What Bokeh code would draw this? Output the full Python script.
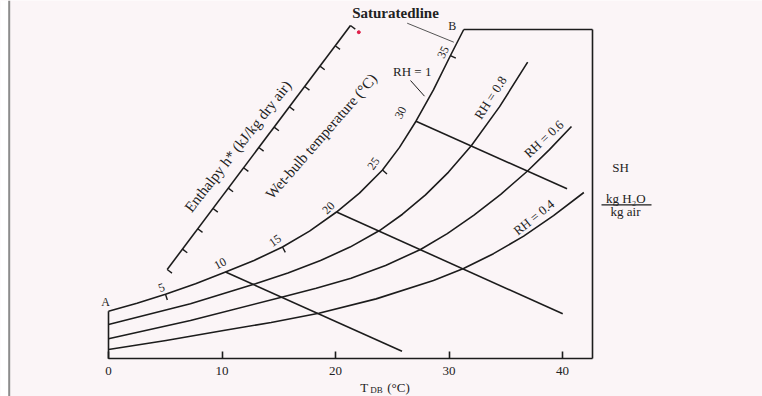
import numpy as np
from bokeh.plotting import figure
from bokeh.models import Range1d, LinearAxis, FixedTicker, Span, BoxAnnotation
from bokeh.core.properties import value
from bokeh.embed import file_html
from bokeh.resources import INLINE

# ---------------- data ----------------
# dry-bulb temperature axis (deg C) and specific-humidity extent (chart units)
tdb_ticks = [0, 10, 20, 30, 40]
tdb_max = 42.64
sh_max = 40.0

# relative-humidity curves: T_DB (deg C) vs SH (chart units)
rh1_t = [0.0, 2.51, 5.02, 7.67, 10.31, 12.82, 15.33, 17.71, 20.09, 22.11, 24.14,
         25.64, 27.09, 28.63, 30.13, 31.30]
rh1_sh = [5.78, 6.75, 7.83, 9.11, 10.54, 11.94, 13.58, 15.51, 17.83, 20.12, 22.93,
          25.68, 28.86, 32.66, 36.84, 40.0]
rh08_t = [0.0, 7.22, 12.95, 15.81, 18.68, 21.28, 23.88, 25.90, 27.93, 29.96, 31.98,
          34.46, 36.93]
rh08_sh = [4.17, 6.68, 9.11, 10.42, 11.94, 13.57, 15.58, 17.56, 19.91, 22.68, 25.91,
           30.63, 36.03]
rh06_t = [0.0, 7.22, 15.24, 18.30, 21.37, 24.41, 27.49, 29.85, 32.20, 34.56, 36.92,
          38.85, 40.79]
rh06_sh = [2.43, 4.65, 7.48, 8.56, 9.79, 11.33, 13.28, 15.21, 17.46, 19.98, 22.81,
           25.41, 28.22]
rh04_t = [0.0, 5.07, 10.13, 14.33, 18.53, 23.58, 28.63, 31.28, 33.92, 36.58, 39.21, 41.88]
rh04_sh = [1.13, 2.22, 3.44, 4.41, 5.54, 7.28, 9.51, 10.97, 12.77, 14.90, 17.39, 20.20]
rh_names = ["RH = 1", "RH = 0.8", "RH = 0.6", "RH = 0.4"]

# wet-bulb temperature marks on the saturated line
wb_labels = ["5", "10", "15", "20", "25", "30", "35"]
wb_t = [5.02, 10.31, 15.33, 20.09, 24.14, 27.09, 30.13]
wb_sh = [7.83, 10.54, 13.58, 17.83, 22.93, 28.86, 36.84]

# constant wet-bulb lines (10, 20, 30 deg C): start on saturation, end point
wbl_t0 = [10.31, 20.09, 27.09]
wbl_sh0 = [10.54, 17.83, 28.86]
wbl_t1 = [25.86, 40.02, 40.40]
wbl_sh1 = [0.92, 5.47, 20.65]

# enthalpy scale (oblique), ends and number of divisions
enth_t = [5.17, 21.32]
enth_sh = [10.85, 40.49]
enth_divisions = 12

# ---------------- layout helpers ----------------
SX, SY = 11.35, 8.2325          # px per unit
X0, Y0 = 108.0, 358.3           # page px of the origin
W, H = 762, 396
def px(x):
    return (x - X0) / SX
def py(y):
    return (Y0 - y) / SY

BG = "#fbf5f7"
INK = "#1c1c1c"
SERIF = "Liberation Serif"

p = figure(width=W, height=H, output_backend="svg", toolbar_location=None,
           x_axis_type=None, y_axis_type=None,
           x_range=Range1d(px(0), px(W)), y_range=Range1d(py(H), py(0)),
           min_border=0, min_border_left=0, min_border_right=0,
           min_border_top=0, min_border_bottom=0)
p.background_fill_color = BG
p.border_fill_color = BG
p.outline_line_color = None

# white page strip and slide border on the left
p.add_layout(BoxAnnotation(right=px(8), fill_color="white", fill_alpha=1.0, line_color=None))
p.add_layout(Span(location=px(8.7), dimension="height", line_color="#8c8c8c", line_width=2))

# dry-bulb axis (pinned at SH = 0)
xaxis = LinearAxis(fixed_location=0, bounds=(0, tdb_max), ticker=FixedTicker(ticks=tdb_ticks))
xaxis.major_tick_in = 7
xaxis.major_tick_out = 0
xaxis.minor_tick_line_color = None
xaxis.axis_line_color = INK
xaxis.axis_line_width = 1.6
xaxis.major_tick_line_color = INK
xaxis.major_tick_line_width = 1.6
xaxis.major_label_text_font = SERIF
xaxis.major_label_text_font_size = "13px"
xaxis.major_label_text_color = "#222222"
xaxis.major_label_standoff = 8
p.add_layout(xaxis, "below")

# specific-humidity axis line (right side of the box)
yaxis = LinearAxis(fixed_location=tdb_max, bounds=(0, sh_max), ticker=FixedTicker(ticks=[]))
yaxis.major_tick_line_color = None
yaxis.minor_tick_line_color = None
yaxis.major_label_text_font_size = "0px"
yaxis.axis_line_color = INK
yaxis.axis_line_width = 1.6
p.add_layout(yaxis, "right")

# box edges: left from origin to A, top from B to right edge
p.segment(x0=[0, rh1_t[-1]], y0=[0, sh_max], x1=[0, tdb_max], y1=[rh1_sh[0], sh_max],
          line_color=INK, line_width=1.6)

# RH curves
for t, s in [(rh1_t, rh1_sh), (rh08_t, rh08_sh), (rh06_t, rh06_sh), (rh04_t, rh04_sh)]:
    p.line(t, s, line_color=INK, line_width=1.6, line_join="round")

# constant wet-bulb lines
p.segment(x0=wbl_t0, y0=wbl_sh0, x1=wbl_t1, y1=wbl_sh1, line_color=INK, line_width=1.6)

# wet-bulb ticks (5, 15, 25, 35) perpendicular to saturation curve
tick_idx = [0, 2, 4, 6]
tx0, ty0, tx1, ty1 = [], [], [], []
for i in tick_idx:
    j = rh1_t.index(wb_t[i])
    a = np.array([(rh1_t[j + 1] - rh1_t[j - 1]) * SX, -(rh1_sh[j + 1] - rh1_sh[j - 1]) * SY])
    a = a / np.linalg.norm(a)
    n = np.array([-a[1], a[0]])  # screen normal (right/down)
    if n[1] < 0:
        n = -n
    L = 6.0
    tx0.append(wb_t[i]); ty0.append(wb_sh[i])
    tx1.append(wb_t[i] + n[0] * L / SX); ty1.append(wb_sh[i] - n[1] * L / SY)
p.segment(x0=tx0, y0=ty0, x1=tx1, y1=ty1, line_color=INK, line_width=1.4)

# enthalpy scale
p.line(enth_t, enth_sh, line_color=INK, line_width=1.6)
f = np.arange(enth_divisions + 1) / enth_divisions
et = enth_t[0] + f * (enth_t[1] - enth_t[0])
es = enth_sh[0] + f * (enth_sh[1] - enth_sh[0])
d = np.array([(enth_t[1] - enth_t[0]) * SX, -(enth_sh[1] - enth_sh[0]) * SY])
d = d / np.linalg.norm(d)
nrm = np.array([-d[1], d[0]])
if nrm[1] < 0:
    nrm = -nrm
TL = 6.0
p.segment(x0=et, y0=es, x1=et + nrm[0] * TL / SX, y1=es - nrm[1] * TL / SY,
          line_color=INK, line_width=1.4)

# leader lines and fraction bar
p.segment(x0=[px(406.7)], y0=[py(22.7)], x1=[px(453.3)], y1=[py(41.7)],
          line_color="#555555", line_width=1)
p.segment(x0=[px(410)], y0=[py(80)], x1=[px(424)], y1=[py(95.7)],
          line_color=INK, line_width=1)
p.segment(x0=[px(601)], y0=[py(204.3)], x1=[px(651)], y1=[py(204.3)],
          line_color=INK, line_width=1.2)

# red mark
p.scatter([px(358.3)], [py(31.7)], size=3, color="#e0204a")

def txt(s, x, y, size="13px", angle=0, bold=False, color="#222222"):
    p.text(x=[px(x)], y=[py(y)], text=[s], angle=angle, angle_units="deg",
           text_font=value(SERIF), text_font_size=size,
           text_font_style="bold" if bold else "normal",
           text_align="center", text_baseline="middle", text_color=color)

# wet-bulb numbers
wb_pos = [(161, 287), (219.6, 263), (274.5, 240), (328, 207.5), (373, 163), (400, 112), (442.5, 51.7)]
wb_ang = [20, 28, 35, 45, 55, 62, 65]
for lab, (x, y), a in zip(wb_labels, wb_pos, wb_ang):
    txt(lab, x, y, size="12px", angle=a)

txt("Saturatedline", 395, 12.5, size="15px", bold=True)
txt("B", 451.7, 25, size="12px")
txt("A", 105, 301.7, size="12px")
txt(rh_names[0], 411.7, 70.7, size="13px")
txt(rh_names[1], 490, 97, size="13px", angle=57)
txt(rh_names[2], 543.3, 138.3, size="13px", angle=43)
txt(rh_names[3], 533.3, 216.7, size="13px", angle=39)
txt("Enthalpy h* (kJ/kg dry air)", 237.5, 145.8, size="15px", angle=51.8)
txt("Wet-bulb temperature (\u00b0C)", 320.8, 135.8, size="15px", angle=48.9)
txt("SH", 620, 167, size="13px")
txt("kg H\u2082O", 625.3, 198.3, size="13px")
txt("kg air", 625, 211, size="13px")
txt("T", 363.8, 387.2, size="13px")
txt("DB", 376, 389.7, size="9px")
txt("(\u00b0C)", 398, 387.2, size="13px")

open("out.html", "w").write(file_html(p, INLINE))
